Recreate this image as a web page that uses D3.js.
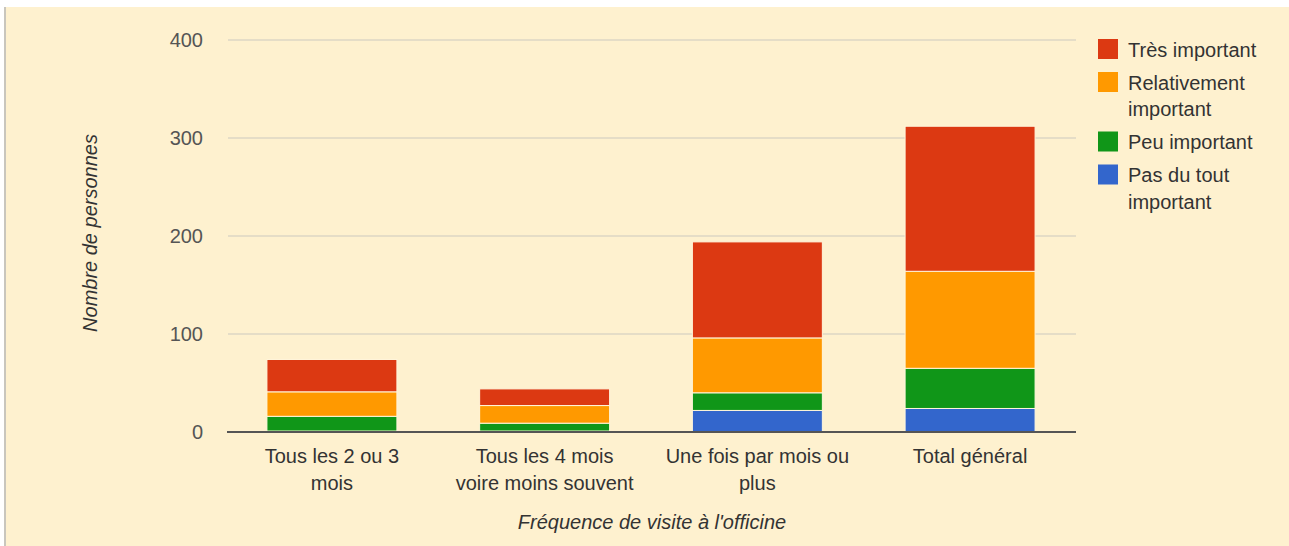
<!DOCTYPE html>
<html>
<head>
<meta charset="utf-8">
<script src="https://cdn.jsdelivr.net/npm/d3@7"></script>
<style>
  body { margin: 0; background: #ffffff; }
  text { font-family: "Liberation Sans", Arial, sans-serif; }
</style>
</head>
<body>
<div id="chart"></div>
<script>
// categories on the x axis (with the line breaks used under the bars)
var categories = ["Tous les 2 ou 3 mois", "Tous les 4 mois voire moins souvent", "Une fois par mois ou plus", "Total général"];
var categoryLines = [["Tous les 2 ou 3", "mois"], ["Tous les 4 mois", "voire moins souvent"], ["Une fois par mois ou", "plus"], ["Total général"]];

// series, bottom to top of each stack
var seriesNames = ["Pas du tout important", "Peu important", "Relativement important", "Très important"];
var pasDuTout = [1, 1, 22, 24];
var peu = [15, 8, 18, 41];
var relativement = [25, 18, 56, 99];
var tres = [33, 17, 98, 148];

var yTicks = [0, 100, 200, 300, 400];

// legend order (top to bottom) and wrapped text
var legendNames = ["Très important", "Relativement important", "Peu important", "Pas du tout important"];
var legendLines = [["Très important"], ["Relativement", "important"], ["Peu important"], ["Pas du tout", "important"]];

var colors = {
    "Très important": "#dc3912",
    "Relativement important": "#ff9900",
    "Peu important": "#109618",
    "Pas du tout important": "#3366cc"
};

var width = 1289;
var height = 546;
var bg = "#fef1cf";

// build rows for d3.stack
var values = [pasDuTout, peu, relativement, tres];
var rows = categories.map(function(c, i) {
    var r = {cat: c};
    seriesNames.forEach(function(s, j) { r[s] = values[j][i]; });
    return r;
});
var stacked = d3.stack().keys(seriesNames)(rows);

var svg = d3.select("#chart").append("svg")
    .attr("width", width)
    .attr("height", height);

// background panel with the grey left edge
svg.append("rect")
    .attr("x", 5).attr("y", 7)
    .attr("width", width - 5).attr("height", height - 7)
    .attr("fill", bg);
svg.append("rect")
    .attr("x", 4).attr("y", 7)
    .attr("width", 2).attr("height", height - 7)
    .attr("fill", "#c9c6bd");

/* Scales */
var x = d3.scaleBand()
    .domain(categories)
    .range([228, 1074])
    .paddingInner(0.389)
    .paddingOuter(0.183);

var y = d3.scaleLinear()
    .domain([0, 400])
    .range([432, 40]);

// gridlines
svg.append("g")
    .selectAll("line")
    .data(yTicks.filter(function(t) { return t > 0; }))
    .enter()
    .append("line")
    .attr("x1", 228).attr("x2", 1076)
    .attr("y1", function(d) { return y(d); })
    .attr("y2", function(d) { return y(d); })
    .attr("stroke", "#dcd6c4")
    .attr("stroke-width", 1.5);

// y tick labels
svg.append("g")
    .selectAll("text")
    .data(yTicks)
    .enter()
    .append("text")
    .attr("x", 203)
    .attr("y", function(d) { return y(d); })
    .attr("dy", "0.36em")
    .attr("text-anchor", "end")
    .attr("fill", "#555")
    .style("font-size", "20px")
    .text(function(d) { return d; });

/* stacked bars */
svg.append("g")
    .selectAll("g")
    .data(stacked)
    .enter()
    .append("g")
    .attr("fill", function(d) { return colors[d.key]; })
    .selectAll("rect")
    .data(function(d) { return d; })
    .enter()
    .append("rect")
    .attr("x", function(d) { return x(d.data.cat); })
    .attr("y", function(d) { return y(d[1]); })
    .attr("width", x.bandwidth())
    .attr("height", function(d) { return y(d[0]) - y(d[1]); })
    .attr("stroke", "#fff6dc")
    .attr("stroke-width", 1);

// baseline
svg.append("line")
    .attr("x1", 227).attr("x2", 1076)
    .attr("y1", y(0)).attr("y2", y(0))
    .attr("stroke", "#555")
    .attr("stroke-width", 2);

// x labels
var xl = svg.append("g")
    .selectAll("text")
    .data(categories)
    .enter()
    .append("text")
    .attr("x", function(d) { return x(d) + x.bandwidth() / 2; })
    .attr("y", 463)
    .attr("text-anchor", "middle")
    .attr("fill", "#333")
    .style("font-size", "20px");
xl.selectAll("tspan")
    .data(function(d, i) { return categoryLines[i]; })
    .enter()
    .append("tspan")
    .attr("x", function() { return d3.select(this.parentNode).attr("x"); })
    .attr("dy", function(d, i) { return i === 0 ? 0 : 27; })
    .text(function(d) { return d; });

// axis titles
svg.append("text")
    .attr("x", 652)
    .attr("y", 529)
    .attr("text-anchor", "middle")
    .attr("fill", "#333")
    .style("font-size", "20px")
    .style("font-style", "italic")
    .text("Fréquence de visite à l'officine");

svg.append("text")
    .attr("transform", "translate(97,233) rotate(-90)")
    .attr("text-anchor", "middle")
    .attr("fill", "#333")
    .style("font-size", "20px")
    .style("font-style", "italic")
    .text("Nombre de personnes");

/* legend */
var lineH = 26.5;
var legendY = 39;
legendNames.forEach(function(name, i) {
    var g = svg.append("g").attr("transform", "translate(1098," + legendY + ")");
    g.append("rect")
        .attr("width", 20).attr("height", 20)
        .attr("fill", colors[name]);
    g.selectAll("text")
        .data(legendLines[i])
        .enter()
        .append("text")
        .attr("x", 30)
        .attr("y", function(d, k) { return 17.5 + k * lineH; })
        .attr("fill", "#333")
        .style("font-size", "20px")
        .text(function(d) { return d; });
    legendY += legendLines[i].length * lineH + 6.5;
});
</script>
</body>
</html>
